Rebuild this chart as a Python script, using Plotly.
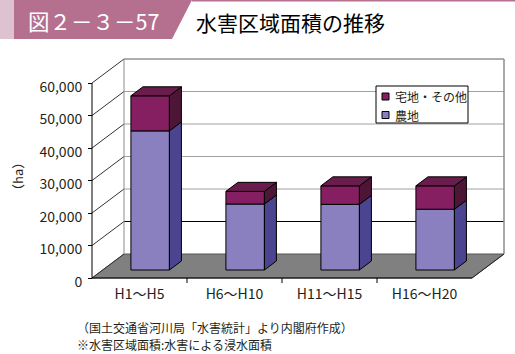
import plotly.graph_objects as go

# ---------------- data ----------------
categories = ["H1～H5", "H6～H10", "H11～H15", "H16～H20"]
farmland = [42800, 20300, 20200, 18700]          # 農地
residential = [10800, 3900, 5700, 7200]          # 宅地・その他
series_names = ["宅地・その他", "農地"]
ytick_vals = [0, 10000, 20000, 30000, 40000, 50000, 60000]
ytick_text = ["0", "10,000", "20,000", "30,000", "40,000", "50,000", "60,000"]
header_num = "図２－３－57"
header_title = "水害区域面積の推移"
notes = ["（国土交通省河川局「水害統計」より内閣府作成）", "※水害区域面積:水害による浸水面積"]
y_title = "（ha）"

# ---------------- geometry / style ----------------
W, H = 515, 354
X0_PX, Y0_PX = 92, 278          # pixel of the front-plane origin
PX_PER_CAT = 95.0
PX_PER_Y = 32.5 / 10000.0
YMAX = 60000
xr = [-X0_PX / PX_PER_CAT, (W - X0_PX) / PX_PER_CAT]
yr = [-(H - Y0_PX) / PX_PER_Y, Y0_PX / PX_PER_Y]
DX = 32 / PX_PER_CAT             # full depth of the 3D box (x units)
DY = 24 / PX_PER_Y               # full depth of the 3D box (y units)
NCAT = len(categories)
BAR_W = 38.5 / PX_PER_CAT
BAR_D0 = 1 / 3                   # depth fraction of bar front
BAR_DEPTH = 0.375                # depth fraction of the bar thickness

FARM_FRONT, FARM_SIDE = "#8a80bf", "#4b448e"
RES_FRONT, RES_SIDE, RES_TOP = "#861f62", "#4d1536", "#6a1c4d"
FONT = "Noto Sans CJK JP"
TXT = "#231f20"


def px(x, y):
    """pixel -> paper coords (figure uses the whole canvas)"""
    return x / W, 1 - y / H


shapes = []
# floor
shapes.append(dict(type="path", layer="below", xref="x", yref="y",
                   path=f"M0,0 L{NCAT},0 L{NCAT + DX},{DY} L{DX},{DY} Z",
                   fillcolor="#808080", line=dict(color="#555555", width=1)))
# back wall gridlines
for v in ytick_vals[1:]:
    shapes.append(dict(type="line", layer="below", xref="x", yref="y",
                       x0=DX, x1=NCAT + DX, y0=v + DY, y1=v + DY,
                       line=dict(color="#000000" if v == 10000 else "#a0a0a0", width=1)))
# left wall diagonals
for v in ytick_vals:
    shapes.append(dict(type="line", layer="below", xref="x", yref="y",
                       x0=0, x1=DX, y0=v, y1=v + DY,
                       line=dict(color="#333333", width=1)))
# wall edges
shapes.append(dict(type="line", layer="below", xref="x", yref="y",
                   x0=DX, x1=DX, y0=DY, y1=YMAX + DY, line=dict(color="#8c8c8c", width=1)))
shapes.append(dict(type="line", layer="below", xref="x", yref="y",
                   x0=NCAT + DX, x1=NCAT + DX, y0=DY, y1=YMAX + DY, line=dict(color="#8c8c8c", width=1.5)))
shapes.append(dict(type="line", layer="below", xref="x", yref="y",
                   x0=DX, x1=NCAT + DX, y0=YMAX + DY, y1=YMAX + DY, line=dict(color="#8c8c8c", width=1)))
# right floor diagonal
shapes.append(dict(type="line", layer="below", xref="x", yref="y",
                   x0=NCAT, x1=NCAT + DX, y0=0, y1=DY, line=dict(color="#222222", width=1)))
# front axes
shapes.append(dict(type="line", xref="x", yref="y", x0=0, x1=0, y0=0, y1=YMAX,
                   line=dict(color="#000000", width=1)))
shapes.append(dict(type="line", xref="x", yref="y", x0=0, x1=NCAT, y0=0, y1=0,
                   line=dict(color="#000000", width=1)))
for k in range(1, NCAT):
    shapes.append(dict(type="line", xref="x", yref="y", x0=k, x1=k, y0=0, y1=-5 / PX_PER_Y,
                       line=dict(color="#000000", width=1)))

# header
x0, y0 = px(0, 0)
x1, y1 = px(14, 39)
shapes.append(dict(type="rect", xref="paper", yref="paper", x0=x0, x1=x1, y0=y1, y1=y0,
                   fillcolor="#dcc3cf", line=dict(width=0)))
a = px(14, 0); b = px(192, 0); c = px(172, 39); d = px(14, 39)
shapes.append(dict(type="path", xref="paper", yref="paper",
                   path=f"M{a[0]},{a[1]} L{b[0]},{b[1]} L{c[0]},{c[1]} L{d[0]},{d[1]} Z",
                   fillcolor="#b5708f", line=dict(width=0)))
a = px(192, 0); b = px(515, 1.5)
shapes.append(dict(type="rect", xref="paper", yref="paper", x0=a[0], x1=b[0], y0=b[1], y1=a[1],
                   fillcolor="#b5708f", line=dict(width=0)))

# legend (drawn)
lx0, ly0 = px(376, 86)
lx1, ly1 = px(468, 123)
shapes.append(dict(type="rect", xref="paper", yref="paper", x0=lx0, x1=lx1, y0=ly1, y1=ly0,
                   fillcolor="white", line=dict(color="#000000", width=1)))
legend_colors = [RES_FRONT, FARM_FRONT]
legend_rows = [96.5, 115]
annotations = []
for name, col, ry in zip(series_names, legend_colors, legend_rows):
    s0 = px(382, ry - 3.5); s1 = px(389, ry + 3.5)
    shapes.append(dict(type="rect", xref="paper", yref="paper", x0=s0[0], x1=s1[0], y0=s1[1], y1=s0[1],
                       fillcolor=col, line=dict(color="#000000", width=1)))
    t = px(393, ry + 0.5)
    annotations.append(dict(xref="paper", yref="paper", x=t[0], y=t[1], text=name, showarrow=False,
                            xanchor="left", yanchor="middle", font=dict(family=FONT, size=12, color=TXT)))

# header texts
t = px(26, 21)
annotations.append(dict(xref="paper", yref="paper", x=t[0], y=t[1], text=header_num, showarrow=False,
                        xanchor="left", yanchor="middle", font=dict(family=FONT, size=21.5, color="white")))
t = px(194, 22)
annotations.append(dict(xref="paper", yref="paper", x=t[0], y=t[1], text=header_title, showarrow=False,
                        xanchor="left", yanchor="middle", font=dict(family=FONT, size=21, color="#000000")))
# y title
t = px(17, 177)
annotations.append(dict(xref="paper", yref="paper", x=t[0], y=t[1], text=y_title, showarrow=False,
                        textangle=-90, xanchor="center", yanchor="middle",
                        font=dict(family=FONT, size=13, color=TXT)))
# notes
for i, line in enumerate(notes):
    t = px(76, 327 + 17.5 * i)
    annotations.append(dict(xref="paper", yref="paper", x=t[0], y=t[1], text=line, showarrow=False,
                            xanchor="left", yanchor="middle", borderpad=0,
                            font=dict(family=FONT, size=12, color=TXT)))

# ---------------- bars ----------------
fig = go.Figure()
front_dx = BAR_D0 * DX
front_dy = BAR_D0 * DY
bdx = BAR_DEPTH * DX
bdy = BAR_DEPTH * DY
centers = [i + 0.5 + front_dx for i in range(NCAT)]

fig.add_trace(go.Bar(x=centers, y=farmland, base=[front_dy] * NCAT, width=BAR_W,
                     name=series_names[1], marker=dict(color=FARM_FRONT, line=dict(color="#000000", width=1)),
                     showlegend=False, hoverinfo="skip"))
fig.add_trace(go.Bar(x=centers, y=residential, base=[front_dy + f for f in farmland], width=BAR_W,
                     name=series_names[0], marker=dict(color=RES_FRONT, line=dict(color="#000000", width=1)),
                     showlegend=False, hoverinfo="skip"))


def poly(xs, ys, color):
    fig.add_trace(go.Scatter(x=xs + [xs[0]], y=ys + [ys[0]], mode="lines", fill="toself",
                             fillcolor=color, line=dict(color="#000000", width=1),
                             showlegend=False, hoverinfo="skip"))


for cx, f, r in zip(centers, farmland, residential):
    xl, xrt = cx - BAR_W / 2, cx + BAR_W / 2
    segs = [(front_dy, front_dy + f, FARM_SIDE), (front_dy + f, front_dy + f + r, RES_SIDE)]
    for ya, yb, col in segs:
        poly([xrt, xrt + bdx, xrt + bdx, xrt], [ya, ya + bdy, yb + bdy, yb], col)
    top = front_dy + f + r
    poly([xl, xrt, xrt + bdx, xl + bdx], [top, top, top + bdy, top + bdy], RES_TOP)

fig.update_layout(
    width=W, height=H, margin=dict(l=0, r=0, t=0, b=0),
    paper_bgcolor="white", plot_bgcolor="white",
    barmode="overlay", showlegend=False,
    shapes=shapes, annotations=annotations,
    xaxis=dict(range=xr, domain=[0, 1], anchor="free", position=(H - Y0_PX) / H,
               tickvals=[i + 0.5 for i in range(NCAT)], ticktext=categories,
               ticks="", showline=False, showgrid=False, zeroline=False,
               ticklabelstandoff=6,
               tickfont=dict(family=FONT, size=14, color=TXT), fixedrange=True),
    yaxis=dict(range=yr, domain=[0, 1], anchor="free", position=X0_PX / W,
               tickvals=ytick_vals, ticktext=ytick_text,
               ticks="outside", ticklen=4, tickcolor="#000000",
               showline=False, showgrid=False, zeroline=False,
               ticklabelshift=4, ticklabelstandoff=3,
               tickfont=dict(family=FONT, size=14, color=TXT), fixedrange=True),
)

fig.write_html("out.html")
